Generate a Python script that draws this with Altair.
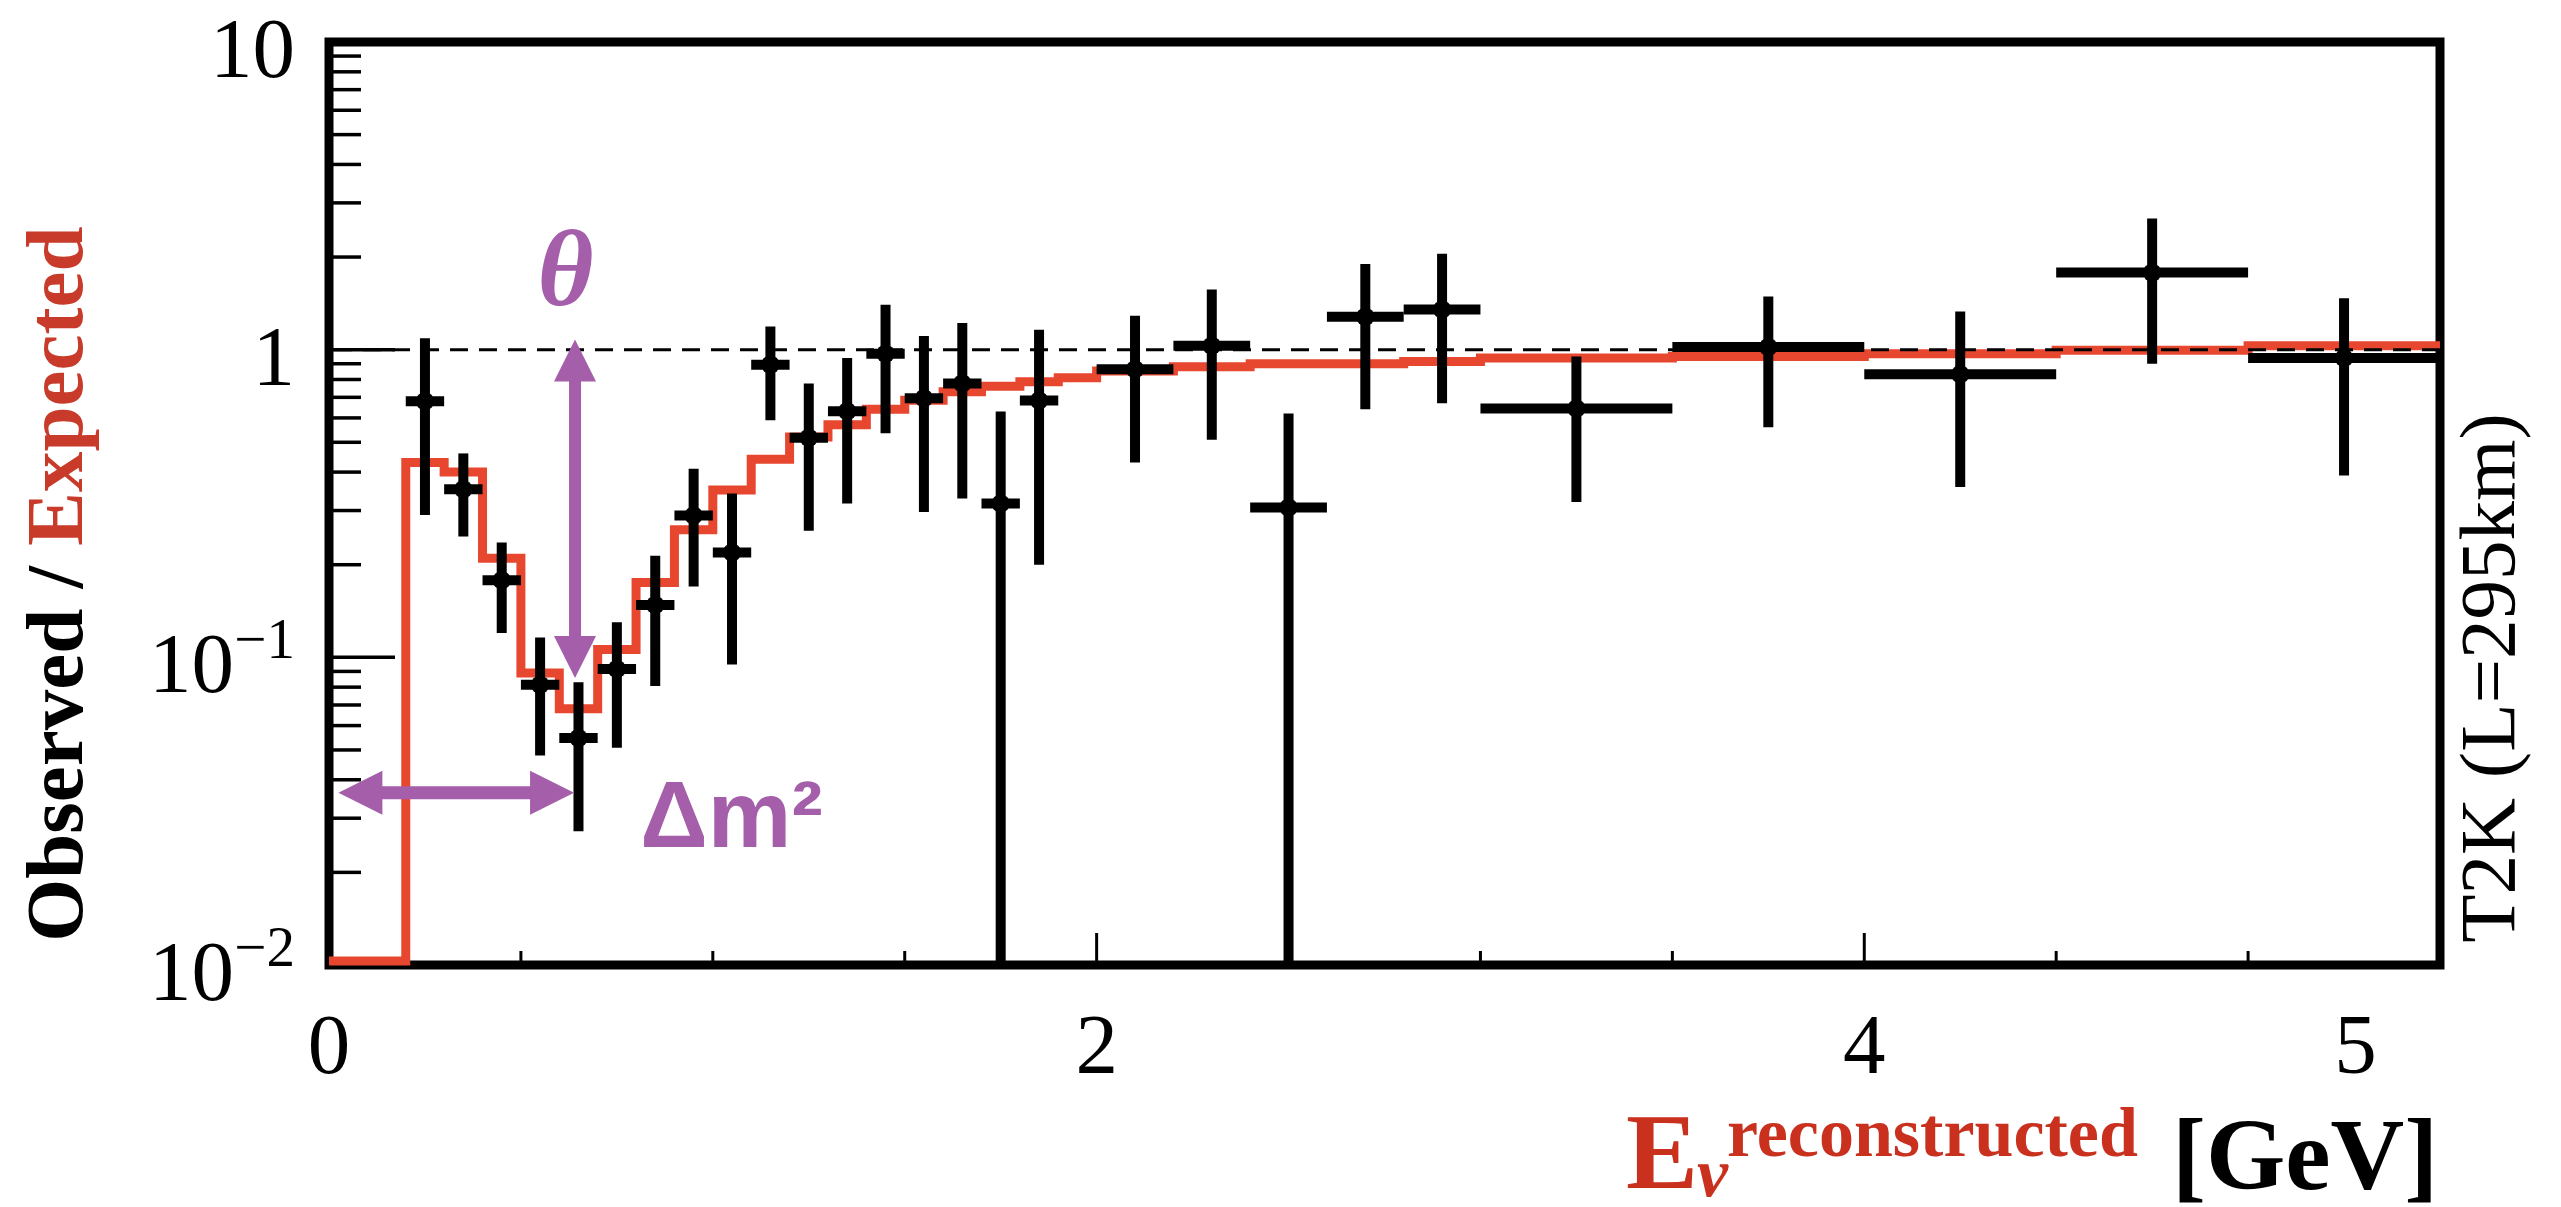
import altair as alt
import pandas as pd

# ---------------- data ----------------
# expected-ratio histogram (red), bin edges in GeV and ratio per bin
bin_edges = [0.0, 0.2, 0.3, 0.4, 0.5, 0.6, 0.7, 0.8, 0.9, 1.0, 1.1, 1.2, 1.3, 1.4, 1.5,
             1.6, 1.7, 1.8, 1.9, 2.0, 2.2, 2.4, 2.6, 2.8, 3.0, 3.5, 4.0, 4.5, 5.0, 5.5]
model_ratio = [0.0103, 0.43, 0.40, 0.21, 0.089, 0.068, 0.106, 0.175, 0.26, 0.35, 0.44,
               0.52, 0.57, 0.64, 0.685, 0.73, 0.76, 0.786, 0.81, 0.853, 0.88, 0.90, 0.90,
               0.915, 0.94, 0.95, 0.97, 0.995, 1.03]

# observed / expected data points
obs_bin_low = [0.2, 0.3, 0.4, 0.5, 0.6, 0.7, 0.8, 0.9, 1.0, 1.1, 1.2, 1.3, 1.4, 1.5,
               1.6, 1.7, 1.8, 2.0, 2.2, 2.4, 2.6, 2.8, 3.0, 3.5, 4.0, 4.5, 5.0]
obs_bin_high = [0.3, 0.4, 0.5, 0.6, 0.7, 0.8, 0.9, 1.0, 1.1, 1.2, 1.3, 1.4, 1.5, 1.6,
                1.7, 1.8, 1.9, 2.2, 2.4, 2.6, 2.8, 3.0, 3.5, 4.0, 4.5, 5.0, 5.5]
obs_ratio = [0.68, 0.352, 0.178, 0.0815, 0.0547, 0.0916, 0.148, 0.289, 0.219, 0.894,
             0.517, 0.631, 0.97, 0.695, 0.777, 0.316, 0.684, 0.863, 1.03, 0.307, 1.28,
             1.35, 0.644, 1.02, 0.832, 1.78, 0.94]
obs_err_low = [0.29, 0.247, 0.12, 0.048, 0.0272, 0.0508, 0.0807, 0.17, 0.0947, 0.59,
               0.258, 0.316, 0.535, 0.297, 0.328, 0.01, 0.20, 0.43, 0.51, 0.01, 0.64,
               0.67, 0.32, 0.56, 0.358, 0.90, 0.39]
obs_err_high = [1.09, 0.46, 0.236, 0.116, 0.083, 0.13, 0.214, 0.41, 0.341, 1.19, 0.776,
                0.94, 1.40, 1.107, 1.22, 0.63, 1.16, 1.29, 1.57, 0.62, 1.90, 2.05, 0.95,
                1.49, 1.33, 2.67, 1.47]

# axes
x_tick_values = [0, 2, 4, 5.28]
x_tick_labels = ["0", "2", "4", "5"]
x_major_ticks = [2, 4]
x_minor_ticks = [0.5, 1.0, 1.5, 2.5, 3.0, 3.5, 4.5, 5.0]
y_tick_values = [0.01, 0.1, 1, 10]
y_tick_base = ["10", "10", "1", "10"]
y_tick_exp = ["\u22122", "\u22121", "", ""]
y_major_ticks = [0.1, 1]
y_minor_ticks = [0.02, 0.03, 0.04, 0.05, 0.06, 0.07, 0.08, 0.09,
                 0.2, 0.3, 0.4, 0.5, 0.6, 0.7, 0.8, 0.9,
                 2, 3, 4, 5, 6, 7, 8, 9]
reference_line = [1.0]

# annotations (data units)
theta_pos = [0.616, 1.78]
dm2_pos = [0.811, 0.0241]
v_arrow_x = 0.641
v_arrow_tips = [1.08, 0.0857]
v_arrow_shaft = [0.85, 0.105]
h_arrow_y = 0.0363
h_arrow_tips = [0.0245, 0.6385]
h_arrow_shaft = [0.10, 0.56]

# ---------------- styles ----------------
RED_LINE = "#E8472F"
RED_TEXT = "#C9301E"
RED_TEXT2 = "#C83B2B"
PURPLE = "#A55EAA"
SERIF = "Liberation Serif"
W, H = 2111, 923

xs = alt.Scale(domain=[0, 5.5], nice=False, zero=False)
ys = alt.Scale(type="log", domain=[0.01, 10], nice=False)

# model histogram (step line)
model_df = pd.DataFrame({"e": bin_edges, "r": model_ratio + [model_ratio[-1]]})
model = alt.Chart(model_df).mark_line(
    interpolate="step-after", color=RED_LINE, strokeWidth=9, strokeJoin="miter"
).encode(x=alt.X("e:Q", scale=xs, axis=None), y=alt.Y("r:Q", scale=ys, axis=None))

# tick labels (text marks placed through the scales)
x_lab = alt.Chart(pd.DataFrame({"v": x_tick_values, "t": x_tick_labels})).mark_text(
    font=SERIF, fontSize=85, color="black", align="center", baseline="alphabetic").encode(
    x=alt.X("v:Q", scale=xs, axis=None), y=alt.value(H + 108), text="t:N")

ylab_df = pd.DataFrame({"v": y_tick_values, "b": y_tick_base, "e": y_tick_exp})
plain_df = ylab_df[ylab_df["e"] == ""]
pow_df = ylab_df[ylab_df["e"] != ""]
y_lab_plain = alt.Chart(plain_df).mark_text(
    font=SERIF, fontSize=85, color="black", align="right", baseline="alphabetic", dy=35).encode(
    y=alt.Y("v:Q", scale=ys, axis=None), x=alt.value(-34), text="b:N")
y_lab_base = alt.Chart(pow_df).mark_text(
    font=SERIF, fontSize=85, color="black", align="right", baseline="alphabetic", dy=35).encode(
    y=alt.Y("v:Q", scale=ys, axis=None), x=alt.value(-95), text="b:N")
y_lab_exp = alt.Chart(pow_df).mark_text(
    font=SERIF, fontSize=57, color="black", align="right", baseline="alphabetic", dy=1).encode(
    y=alt.Y("v:Q", scale=ys, axis=None), x=alt.value(-34), text="e:N")

# ticks drawn inside the frame
y_minor = alt.Chart(pd.DataFrame({"v": y_minor_ticks})).mark_rule(
    color="black", strokeWidth=3.5).encode(
    y=alt.Y("v:Q", scale=ys, axis=None), x=alt.value(0), x2=alt.value(32))
y_major = alt.Chart(pd.DataFrame({"v": y_major_ticks})).mark_rule(
    color="black", strokeWidth=3.5).encode(
    y=alt.Y("v:Q", scale=ys, axis=None), x=alt.value(0), x2=alt.value(66))
x_minor = alt.Chart(pd.DataFrame({"v": x_minor_ticks})).mark_rule(
    color="black", strokeWidth=3).encode(
    x=alt.X("v:Q", scale=xs, axis=None), y=alt.value(H), y2=alt.value(H - 14))
x_major = alt.Chart(pd.DataFrame({"v": x_major_ticks})).mark_rule(
    color="black", strokeWidth=3).encode(
    x=alt.X("v:Q", scale=xs, axis=None), y=alt.value(H), y2=alt.value(H - 32))

dashed = alt.Chart(pd.DataFrame({"y": reference_line})).mark_rule(
    color="black", strokeWidth=3, strokeDash=[18, 11]).encode(
    y=alt.Y("y:Q", scale=ys, axis=None))

obs_df = pd.DataFrame({
    "bl": obs_bin_low, "bh": obs_bin_high, "r": obs_ratio,
    "lo": obs_err_low, "hi": obs_err_high,
})
obs_df["c"] = (obs_df["bl"] + obs_df["bh"]) / 2

v_err = alt.Chart(obs_df).mark_rule(color="black", strokeWidth=10).encode(
    x=alt.X("c:Q", scale=xs, axis=None), y=alt.Y("lo:Q", scale=ys, axis=None), y2="hi:Q")
h_err = alt.Chart(obs_df).mark_rule(color="black", strokeWidth=10).encode(
    x=alt.X("bl:Q", scale=xs, axis=None), x2="bh:Q", y=alt.Y("r:Q", scale=ys, axis=None))
pts = alt.Chart(obs_df).mark_point(filled=True, shape="circle", size=340, color="black",
                                   opacity=1).encode(
    x=alt.X("c:Q", scale=xs, axis=None), y=alt.Y("r:Q", scale=ys, axis=None))

# purple arrows
v_shaft = alt.Chart(pd.DataFrame({"x": [v_arrow_x], "y1": [v_arrow_shaft[0]],
                                  "y2": [v_arrow_shaft[1]]})).mark_rule(
    color=PURPLE, strokeWidth=12).encode(
    x=alt.X("x:Q", scale=xs, axis=None), y=alt.Y("y1:Q", scale=ys, axis=None), y2="y2:Q")
v_head_up = alt.Chart(pd.DataFrame({"x": [v_arrow_x], "y": [v_arrow_tips[0]]})).mark_point(
    shape="M0,0L1,2L-1,2Z", size=1764, filled=True, color=PURPLE, opacity=1).encode(
    x=alt.X("x:Q", scale=xs, axis=None), y=alt.Y("y:Q", scale=ys, axis=None))
v_head_down = alt.Chart(pd.DataFrame({"x": [v_arrow_x], "y": [v_arrow_tips[1]]})).mark_point(
    shape="M0,0L1,-2L-1,-2Z", size=1764, filled=True, color=PURPLE, opacity=1).encode(
    x=alt.X("x:Q", scale=xs, axis=None), y=alt.Y("y:Q", scale=ys, axis=None))
h_shaft = alt.Chart(pd.DataFrame({"y": [h_arrow_y], "x1": [h_arrow_shaft[0]],
                                  "x2": [h_arrow_shaft[1]]})).mark_rule(
    color=PURPLE, strokeWidth=13).encode(
    x=alt.X("x1:Q", scale=xs, axis=None), x2="x2:Q", y=alt.Y("y:Q", scale=ys, axis=None))
h_head_left = alt.Chart(pd.DataFrame({"x": [h_arrow_tips[0]], "y": [h_arrow_y]})).mark_point(
    shape="M0,0L2,-1L2,1Z", size=1936, filled=True, color=PURPLE, opacity=1).encode(
    x=alt.X("x:Q", scale=xs, axis=None), y=alt.Y("y:Q", scale=ys, axis=None))
h_head_right = alt.Chart(pd.DataFrame({"x": [h_arrow_tips[1]], "y": [h_arrow_y]})).mark_point(
    shape="M0,0L-2,-1L-2,1Z", size=1936, filled=True, color=PURPLE, opacity=1).encode(
    x=alt.X("x:Q", scale=xs, axis=None), y=alt.Y("y:Q", scale=ys, axis=None))

theta_txt = alt.Chart(pd.DataFrame({"x": [theta_pos[0]], "y": [theta_pos[1]], "t": ["θ"]})).mark_text(
    font=SERIF, fontSize=108, fontStyle="italic", fontWeight="bold", color=PURPLE,
    align="center", baseline="middle").encode(
    x=alt.X("x:Q", scale=xs, axis=None), y=alt.Y("y:Q", scale=ys, axis=None), text="t:N")
dm2_txt = alt.Chart(pd.DataFrame({"x": [dm2_pos[0]], "y": [dm2_pos[1]], "t": ["Δm²"]})).mark_text(
    font="Liberation Sans", fontSize=94, fontWeight="bold", color=PURPLE,
    align="left", baseline="alphabetic").encode(
    x=alt.X("x:Q", scale=xs, axis=None), y=alt.Y("y:Q", scale=ys, axis=None), text="t:N")


def label(text, x, y, size, color, weight="bold", style="normal", angle=0, align="left",
          font=SERIF):
    return alt.Chart(pd.DataFrame({"t": [text]})).mark_text(
        font=font, fontSize=size, fontWeight=weight, fontStyle=style, color=color,
        angle=angle, align=align, baseline="alphabetic").encode(
        text="t:N", x=alt.value(x), y=alt.value(y))


titles = [
    label("Observed /", -247, 524, 81, "black", angle=270, align="right"),
    label("Expected", -247, 504, 81, RED_TEXT2, angle=270, align="left"),
    label("T2K (L=295km)", 2185, 636, 79, "black", weight="normal", angle=270, align="center"),
    label("E", 1297, 1146, 108, RED_TEXT),
    label("ν", 1368, 1154, 70, RED_TEXT, style="italic"),
    label("reconstructed", 1398, 1114, 70, RED_TEXT),
    label("[GeV]", 1843, 1147, 102, "black"),
]

chart = alt.layer(
    model, y_minor, y_major, x_minor, x_major, dashed, v_err, h_err, pts,
    v_shaft, v_head_up, v_head_down, h_shaft, h_head_left, h_head_right,
    theta_txt, dm2_txt, x_lab, y_lab_plain, y_lab_base, y_lab_exp, *titles
).properties(
    width=W, height=H,
    autosize=alt.AutoSizeParams(type="none"),
    padding={"left": 321, "top": 34, "right": 113, "bottom": 250},
    background="white",
).configure_view(stroke="black", strokeWidth=9)

chart.save("out.html", embed_options={"renderer": "svg", "actions": False})
